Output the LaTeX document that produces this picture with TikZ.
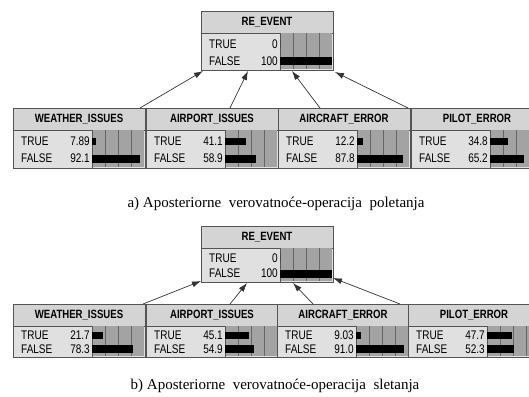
\documentclass[tikz,border=0pt]{standalone}
\usepackage{fontspec}
\setmainfont{Liberation Serif}
\newfontfamily\netfont[FakeStretch=0.8]{Liberation Sans}
\usetikzlibrary{arrows.meta,calc}

\definecolor{titlegray}{gray}{0.83}
\definecolor{datagray}{gray}{0.88}
\definecolor{bargray}{gray}{0.64}
\definecolor{gridgray}{gray}{0.40}
\definecolor{framegray}{gray}{0.33}
\definecolor{linkgray}{gray}{0.2}

\tikzset{
  nodebox/.style={draw=framegray, fill=datagray, line width=0.8pt, inner sep=0pt,
    anchor=north west, minimum width=132pt},
  titlefont/.style={font=\netfont\bfseries\fontsize{12}{12}\selectfont},
  rowfont/.style={font=\netfont\fontsize{12.5}{12.5}\selectfont, inner sep=0pt},
  link/.style={draw=linkgray, line width=0.7pt, -{Latex[length=9pt,width=6pt]}},
  caption/.style={font=\fontsize{15}{15}\selectfont, inner sep=0pt, anchor=base}
}

% belief node: #1 name, #2 x, #3 y (top), #4 height, #5 title, #6 TRUE %, #7 FALSE %
\newcommand\beliefnode[7]{%
  \begin{scope}[shift={(#2,#3)}]
    \node[nodebox, minimum height=#4pt] (#1) at (0,0) {};
    \filldraw[fill=titlegray, draw=framegray, line width=0.8pt] (0,0) rectangle (132,22);
    \node[titlefont] at (66,11.5) {#5};
    \fill[bargray] (79,22) rectangle (131.4,#4-1);
    \foreach \g in {92,105,118}{\draw[gridgray, line width=0.6pt] (\g,22) -- (\g,#4-1);}
    \draw[framegray, line width=0.8pt] (79,22) -- (79,#4);
    \node[rowfont, anchor=west] at (8,{22+0.3*(#4-22)}) {TRUE};
    \node[rowfont, anchor=east] at (77,{22+0.3*(#4-22)}) {#6};
    \node[rowfont, anchor=west] at (8,{22+0.75*(#4-22)}) {FALSE};
    \node[rowfont, anchor=east] at (77,{22+0.75*(#4-22)}) {#7};
    \fill[black] (79,{22+0.3*(#4-22)-3.5}) rectangle ({79+0.523*#6},{22+0.3*(#4-22)+3.5});
    \fill[black] (79,{22+0.75*(#4-22)-4}) rectangle ({79+0.523*#7},{22+0.75*(#4-22)+4});
  \end{scope}}

\begin{document}
\begin{tikzpicture}[x=1pt, y=-1pt]
  \useasboundingbox (0,0) rectangle (529,396);
  \clip (0,0) rectangle (529,396);
  \fill[white] (0,0) rectangle (529,396);

  % take-off
  \beliefnode{ra}{201}{11}{59}{RE\_EVENT}{0}{100}
  \beliefnode{wa}{13}{108}{60}{WEATHER\_ISSUES}{7.89}{92.1}
  \beliefnode{apa}{146}{108}{60}{AIRPORT\_ISSUES}{41.1}{58.9}
  \beliefnode{aca}{278}{108}{60}{AIRCRAFT\_ERROR}{12.2}{87.8}
  \beliefnode{pa}{411}{108}{60}{PILOT\_ERROR}{34.8}{65.2}

  \coordinate (wa-out) at (140,108);
  \coordinate (apa-out) at (230,108);
  \coordinate (aca-out) at (320,108);
  \coordinate (pa-out) at (408,108);
  \coordinate (ra-w) at (203,71);
  \coordinate (ra-ap) at (248,71);
  \coordinate (ra-ac) at (292,71);
  \coordinate (ra-p) at (335,72);
  \draw[link] (wa-out) -- (ra-w);
  \draw[link] (apa-out) -- (ra-ap);
  \draw[link] (aca-out) -- (ra-ac);
  \draw[link] (pa-out) -- (ra-p);

  \node[caption] (capa) at (276,207) {a) Aposteriorne\ \ verovatnoće-operacija\ \ poletanja};

  % landing
  \beliefnode{rb}{201}{226}{56}{RE\_EVENT}{0}{100}
  \beliefnode{wb}{13}{304}{53}{WEATHER\_ISSUES}{21.7}{78.3}
  \beliefnode{apb}{146}{304}{53}{AIRPORT\_ISSUES}{45.1}{54.9}
  \beliefnode{acb}{277}{304}{53}{AIRCRAFT\_ERROR}{9.03}{91.0}
  \beliefnode{pb}{408}{304}{53}{PILOT\_ERROR}{47.7}{52.3}

  \coordinate (wb-out) at (143,304);
  \coordinate (apb-out) at (230,304);
  \coordinate (acb-out) at (313,304);
  \coordinate (pb-out) at (400,304);
  \coordinate (rb-w) at (201,281);
  \coordinate (rb-ap) at (247,283);
  \coordinate (rb-ac) at (293,283);
  \coordinate (rb-p) at (333,278);
  \draw[link] (wb-out) -- (rb-w);
  \draw[link] (apb-out) -- (rb-ap);
  \draw[link] (acb-out) -- (rb-ac);
  \draw[link] (pb-out) -- (rb-p);

  \node[caption] (capb) at (275,389) {b) Aposteriorne\ \ verovatnoće-operacija\ \ sletanja};
\end{tikzpicture}
\end{document}
